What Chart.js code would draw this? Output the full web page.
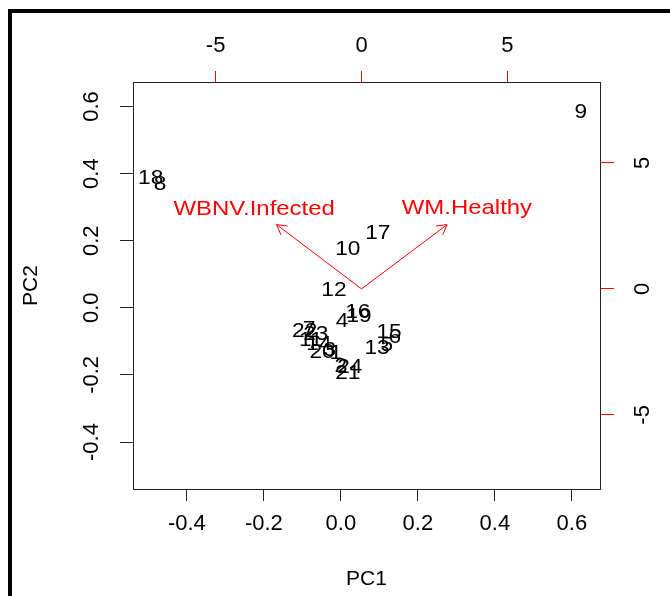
<!DOCTYPE html>
<html>
<head>
<meta charset="utf-8">
<script src="https://cdn.jsdelivr.net/npm/chart.js@4/dist/chart.umd.min.js"></script>
<style>
  html, body { margin: 0; padding: 0; background: #fff; overflow: hidden; }
  #wrap { position: relative; width: 670px; height: 596px; overflow: hidden; }
  #wrap canvas { position: absolute; left: 0; top: 0; }
  #frame { position: absolute; left: 8px; top: 9px; width: 700px; height: 700px;
           border-left: 4px solid #000; border-top: 4px solid #000; pointer-events: none; }
</style>
</head>
<body>
<div id="wrap">
  <canvas id="biplot" width="670" height="596"></canvas>
  <div id="frame"></div>
</div>
<script>
// observation scores (PC1, PC2)
const obsLabels = ['1','2','3','4','5','6','7','8','9','10','11','12',
                   '13','14','15','16','17','18','19','20','21','22','23','24'];
const pc1 = [-0.013, 0.000, -0.029, 0.003, 0.119, 0.140, -0.083, -0.470, 0.623, 0.018, -0.078, -0.018,
              0.094, -0.057, 0.125, 0.044, 0.096, -0.494, 0.047, -0.049, 0.018, -0.094, -0.065, 0.023];
const pc2 = [-0.135, -0.174, -0.126, -0.039, -0.111, -0.087, -0.063, 0.369, 0.583, 0.174, -0.096, 0.051,
             -0.120, -0.108, -0.072, -0.012, 0.222, 0.387, -0.024, -0.132, -0.195, -0.069, -0.078, -0.177];

// variable loadings (arrows, top/right scale)
const varNames = ['WBNV.Infected', 'WM.Healthy'];
const loadX = [-2.91, 2.93];
const loadY = [2.55, 2.55];
const varLabelX = [-3.68, 3.61];
const varLabelY = [3.17, 3.22];

const FONT = { family: '"Liberation Sans", Arial, sans-serif', size: 21 };
const TICKFONT = { family: '"Liberation Sans", Arial, sans-serif', size: 22 };
const RED = '#ff0000';

const obsPoints = pc1.map((v, i) => ({ x: v, y: pc2[i] }));
const arrowSets = varNames.map((n, i) => ({
  label: n,
  type: 'line',
  xAxisID: 'x2',
  yAxisID: 'y2',
  data: [{ x: 0, y: 0 }, { x: loadX[i], y: loadY[i] }],
  borderColor: RED,
  borderWidth: 1,
  pointRadius: 0,
  fill: false
}));

// text a bit wider than the font, like the R device output
function wideText(ctx, s, x, y, k) {
  ctx.save();
  ctx.translate(x, y);
  ctx.scale(k, 1);
  ctx.fillText(s, 0, 0);
  ctx.restore();
}

const biplotText = {
  id: 'biplotText',
  afterDatasetsDraw(chart) {
    const ctx = chart.ctx;
    ctx.save();
    ctx.font = FONT.size + 'px ' + FONT.family;
    ctx.textAlign = 'center';
    ctx.textBaseline = 'middle';
    // observation labels
    ctx.fillStyle = '#000';
    chart.getDatasetMeta(0).data.forEach((pt, i) => {
      wideText(ctx, obsLabels[i], pt.x, pt.y, 1.08);
    });
    // arrow heads + variable names
    const sx = chart.scales.x2, sy = chart.scales.y2;
    ctx.strokeStyle = RED;
    ctx.fillStyle = RED;
    ctx.lineWidth = 1;
    varNames.forEach((name, i) => {
      const meta = chart.getDatasetMeta(i + 1);
      const p0 = meta.data[0], p1 = meta.data[1];
      const ang = Math.atan2(p1.y - p0.y, p1.x - p0.x);
      const len = 11, spread = Math.PI / 6;
      ctx.beginPath();
      ctx.moveTo(p1.x - len * Math.cos(ang - spread), p1.y - len * Math.sin(ang - spread));
      ctx.lineTo(p1.x, p1.y);
      ctx.lineTo(p1.x - len * Math.cos(ang + spread), p1.y - len * Math.sin(ang + spread));
      ctx.stroke();
      wideText(ctx, name, sx.getPixelForValue(varLabelX[i]), sy.getPixelForValue(varLabelY[i]), 1.14);
    });
    ctx.restore();
  }
};

new Chart(document.getElementById('biplot'), {
  type: 'scatter',
  data: {
    datasets: [
      { label: 'obs', data: obsPoints, xAxisID: 'x', yAxisID: 'y', pointRadius: 0 },
      ...arrowSets
    ]
  },
  options: {
    responsive: false,
    animation: false,
    devicePixelRatio: 1,
    layout: { padding: 0 },
    plugins: { legend: { display: false }, tooltip: { enabled: false } },
    scales: {
      x: {
        type: 'linear', position: 'bottom', min: -0.54, max: 0.673,
        ticks: { stepSize: 0.2, includeBounds: false, font: TICKFONT, color: '#000', padding: 10,
                 callback: v => (Math.round(v * 10) / 10).toFixed(1) },
        grid: { display: true, drawOnChartArea: false, drawTicks: true, tickLength: 12, color: '#222' },
        border: { display: true, color: '#222' },
        title: { display: true, text: 'PC1', font: FONT, color: '#000', padding: { top: 0, bottom: 4 } },
        afterFit: s => { s.height = 107; }
      },
      y: {
        type: 'linear', position: 'left', min: -0.54, max: 0.673,
        ticks: { stepSize: 0.2, includeBounds: false, font: TICKFONT, color: '#000', padding: 9,
                 minRotation: 90, maxRotation: 90, crossAlign: 'center',
                 callback: v => (Math.round(v * 10) / 10).toFixed(1) },
        grid: { display: true, drawOnChartArea: false, drawTicks: true, tickLength: 13, color: '#222' },
        border: { display: true, color: '#222' },
        title: { display: true, text: 'PC2', font: FONT, color: '#000', padding: { top: 19, bottom: 0 } },
        afterFit: s => { s.width = 133; }
      },
      x2: {
        type: 'linear', position: 'top', min: -7.83, max: 8.17,
        ticks: { stepSize: 5, includeBounds: false, font: TICKFONT, color: '#000', padding: 12 },
        grid: { display: true, drawOnChartArea: false, drawTicks: true, tickLength: 11, tickColor: RED, color: '#222' },
        border: { display: true, color: '#222' },
        afterFit: s => { s.height = 82; }
      },
      y2: {
        type: 'linear', position: 'right', min: -7.94, max: 8.21,
        ticks: { stepSize: 5, includeBounds: false, font: TICKFONT, color: '#000', padding: 19,
                 minRotation: 90, maxRotation: 90, crossAlign: 'center' },
        grid: { display: true, drawOnChartArea: false, drawTicks: true, tickLength: 14, tickColor: RED, color: '#222' },
        border: { display: true, color: '#222' },
        afterFit: s => { s.width = 70; }
      }
    }
  },
  plugins: [biplotText]
});
</script>
</body>
</html>
